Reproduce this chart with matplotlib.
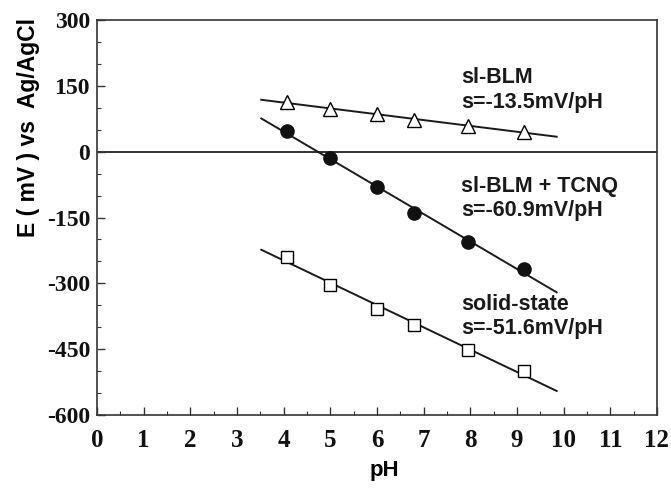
import numpy as np
import matplotlib
matplotlib.use("Agg")
import matplotlib.pyplot as plt
from matplotlib.ticker import MultipleLocator, FuncFormatter

# Data
ph = [4.07, 5.0, 6.0, 6.8, 7.95, 9.15]
e_slblm = [113, 97, 86, 72, 59, 45]
e_tcnq = [46, -15, -81, -139, -206, -268]
e_solid = [-239, -304, -358, -394, -453, -500]
fit_range = [3.52, 9.85]

labels = ["sl-BLM\ns=-13.5mV/pH",
          "sl-BLM + TCNQ\ns=-60.9mV/pH",
          "solid-state\ns=-51.6mV/pH"]
label_pos = [(7.81, 192), (7.81, -55), (7.81, -324)]

xticks = list(range(0, 13))
yticks = [300, 150, 0, -150, -300, -450, -600]

fig = plt.figure(figsize=(6.71, 4.95), dpi=100)
ax = fig.add_axes([0.1446, 0.1616, 0.8345, 0.798])

ax.axhline(0, color="#222222", lw=1.3, zorder=1)

series = [
    (e_slblm, dict(marker="^", mfc="white", mec="black", ms=10, mew=1.0)),
    (e_tcnq, dict(marker="o", mfc="#111111", mec="#111111", ms=9.5, mew=1.0)),
    (e_solid, dict(marker="s", mfc="white", mec="black", ms=8.5, mew=1.0)),
]
xf = np.array(fit_range)
for ys, st in series:
    k, b = np.polyfit(ph, ys, 1)
    ax.plot(xf, k * xf + b, color="#1a1a1a", lw=1.4, zorder=2)
    ax.plot(ph, ys, ls="none", zorder=3, **st)

for txt, (x, y) in zip(labels, label_pos):
    ax.text(x, y, txt, family="Liberation Sans", fontweight="bold",
            fontsize=15.5, ha="left", va="top", linespacing=1.2, color="#1a1a1a")

ax.set_xlim(0, 12)
ax.set_ylim(-600, 300)
ax.set_xticks(xticks)
ax.set_yticks(yticks)
ax.xaxis.set_minor_locator(MultipleLocator(0.5))
ax.yaxis.set_minor_locator(MultipleLocator(50))
ax.yaxis.set_major_formatter(FuncFormatter(lambda v, p: "%d" % v))
ax.tick_params(which="major", direction="in", length=6, width=1, colors="#333333",
               labelcolor="#111111")
ax.tick_params(which="minor", direction="in", length=3, width=0.8, colors="#333333")
ax.tick_params(top=False, right=False, which="both")

for lab in ax.get_xticklabels():
    lab.set_family("Liberation Serif")
    lab.set_fontweight("bold")
    lab.set_fontsize(18)
for lab in ax.get_yticklabels():
    lab.set_family("Liberation Serif")
    lab.set_fontweight("bold")
    lab.set_fontsize(17)
ax.tick_params(axis="x", pad=10)
ax.tick_params(axis="y", pad=5)

for sp in ax.spines.values():
    sp.set_color("#333333")
    sp.set_linewidth(1.2)

ax.set_xlabel("pH", family="Liberation Sans", fontweight="bold", fontsize=16)
ax.xaxis.set_label_coords(0.514, -0.113)
ax.set_ylabel("E ( mV ) vs  Ag/AgCl", family="Liberation Sans", fontweight="bold",
              fontsize=16.5)
ax.yaxis.set_label_coords(-0.102, 0.727)

fig.savefig("out.png", dpi=100)
